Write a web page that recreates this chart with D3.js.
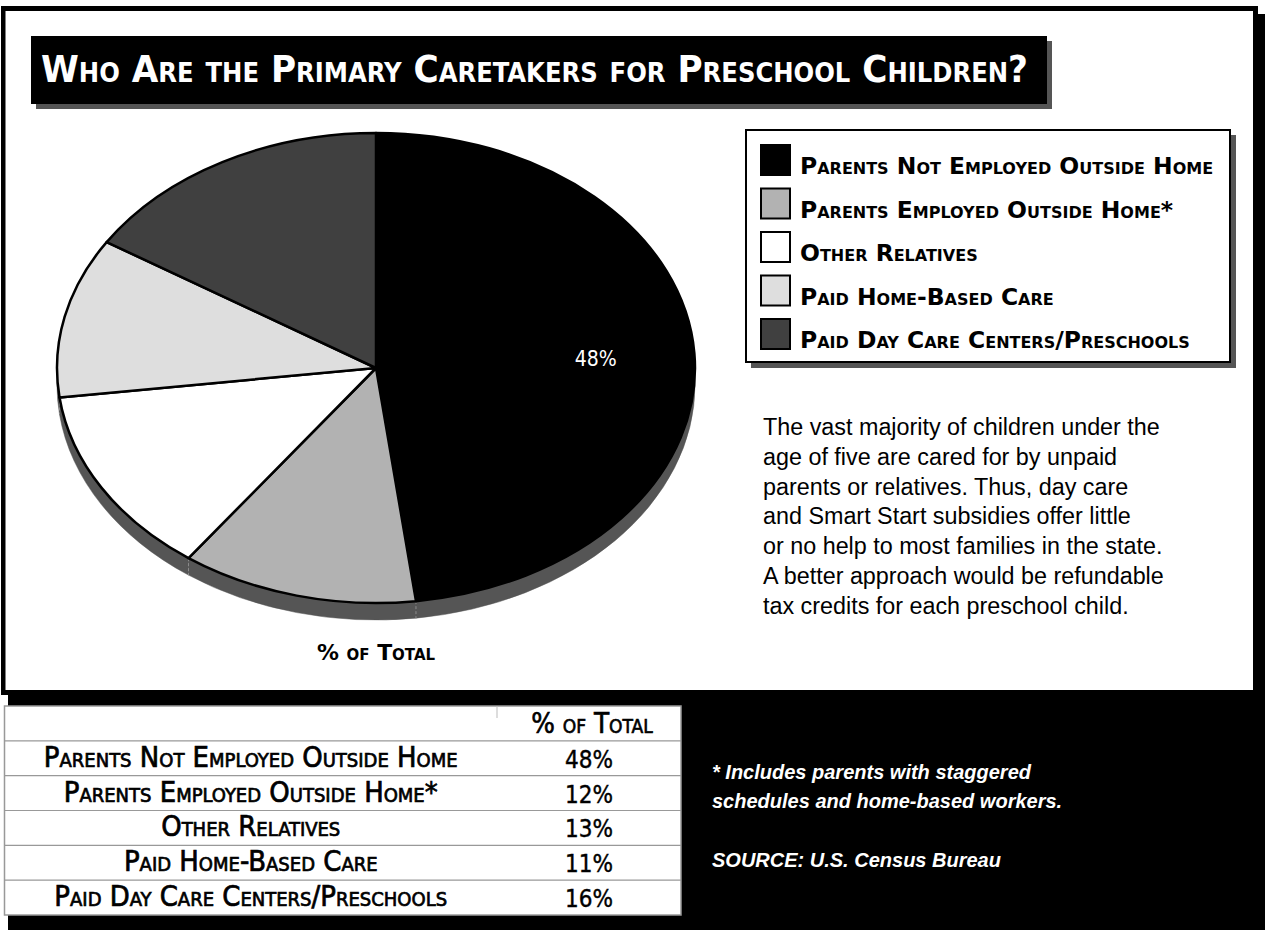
<!DOCTYPE html>
<html><head><meta charset="utf-8">
<script src="https://cdn.jsdelivr.net/npm/d3@7"></script>
<style>
html,body{margin:0;padding:0;background:#fff;}
svg{display:block;}
.cond{font-family:"Liberation Sans Narrow","DejaVu Sans Condensed","Arial Narrow",sans-serif;}
.flare{font-family:"DejaVu Sans","Open Sans",sans-serif;}
.sc{font-variant:small-caps;}
.body{font-family:"Liberation Sans",Arial,sans-serif;}
</style></head><body>
<svg id="chart" width="1265" height="930"></svg>
<script>
// ---------- data ----------
const title = "Who Are the Primary Caretakers for Preschool Children?";
const categories = [
  "Parents Not Employed Outside Home",
  "Parents Employed Outside Home*",
  "Other Relatives",
  "Paid Home-Based Care",
  "Paid Day Care Centers/Preschools"
];
const values = [48, 12, 13, 11, 16];
const valueLabels = ["48%", "12%", "13%", "11%", "16%"];
const shownSliceLabels = ["48%"];
const columnHeader = "% of Total";
const pieCaption = "% of Total";
const description = [
  "The vast majority of children under the",
  "age of five are cared for by unpaid",
  "parents or relatives. Thus, day care",
  "and Smart Start subsidies offer little",
  "or no help to most families in the state.",
  "A better approach would be refundable",
  "tax credits for each preschool child."
];
const footnote = ["* Includes parents with staggered", "schedules and home-based workers."];
const source = "SOURCE: U.S. Census Bureau";

// ---------- styles ----------
const palette = ["#000000", "#b2b2b2", "#ffffff", "#dedede", "#404040"];
const color = d3.scaleOrdinal(categories, palette);

const svg = d3.select("#chart");

function fitFont(sel, target) {
  const n = sel.node();
  const fs = parseFloat(sel.attr("font-size"));
  const w = n.getComputedTextLength();
  const nf = fs * target / w;
  sel.attr("font-size", nf.toFixed(2));
  return nf;
}

// ---------- frame ----------
svg.append("rect").attr("x", 8).attr("y", 14).attr("width", 1257).attr("height", 916).attr("fill", "#000");
svg.append("rect").attr("x", 1).attr("y", 6).attr("width", 1257).attr("height", 689).attr("fill", "#000");
svg.append("rect").attr("x", 5.5).attr("y", 11).attr("width", 1247.5).attr("height", 679).attr("fill", "#fff");

// ---------- title ----------
svg.append("rect").attr("x", 36).attr("y", 41).attr("width", 1016).attr("height", 68).attr("fill", "#555");
svg.append("rect").attr("x", 31).attr("y", 36).attr("width", 1016).attr("height", 68).attr("fill", "#000");
const tt = svg.append("text").attr("class", "cond sc").attr("x", 41).attr("y", 82)
  .attr("font-size", 28).attr("font-weight", "bold").attr("fill", "#fff").text(title);
fitFont(tt, 993);

// ---------- pie ----------
const cx = 376, cy = 368, rx = 319, ry = 235, depth = 17;
const arcs = d3.pie().sort(null).value(d => d)(values);
const pieG = svg.append("g").attr("transform", `translate(${cx},${cy}) scale(${rx / ry},1)`);
const toStd = a => a - Math.PI / 2;
arcs.forEach((p, i) => {
  const a0 = Math.max(p.startAngle, Math.PI / 2), a1 = Math.min(p.endAngle, 3 * Math.PI / 2);
  if (a1 <= a0) return;
  const path = d3.path();
  path.moveTo(ry * Math.sin(a0), -ry * Math.cos(a0));
  path.arc(0, 0, ry, toStd(a0), toStd(a1), false);
  path.lineTo(ry * Math.sin(a1), -ry * Math.cos(a1) + depth);
  path.arc(0, depth, ry, toStd(a1), toStd(a0), true);
  path.closePath();
  pieG.append("path").attr("d", path.toString()).attr("fill", "#555").attr("stroke", "#555")
    .attr("stroke-width", 0.5).attr("vector-effect", "non-scaling-stroke");
});
arcs.forEach(p => {
  const a = p.endAngle;
  if (a > Math.PI / 2 && a < 3 * Math.PI / 2) {
    pieG.append("line")
      .attr("x1", ry * Math.sin(a)).attr("y1", -ry * Math.cos(a))
      .attr("x2", ry * Math.sin(a)).attr("y2", -ry * Math.cos(a) + depth)
      .attr("stroke", "#8c8c8c").attr("stroke-width", 1).attr("stroke-dasharray", "3,2")
      .attr("vector-effect", "non-scaling-stroke");
  }
});
const arcGen = d3.arc().innerRadius(0).outerRadius(ry);
pieG.selectAll("path.slice").data(arcs).join("path").attr("class", "slice")
  .attr("d", arcGen)
  .attr("fill", (d, i) => color(categories[i]))
  .attr("stroke", "#000").attr("stroke-width", 2.5).attr("stroke-linejoin", "round")
  .attr("vector-effect", "non-scaling-stroke");

arcs.forEach((p, i) => {
  if (!shownSliceLabels.includes(valueLabels[i])) return;
  const m = (p.startAngle + p.endAngle) / 2;
  svg.append("text").attr("class", "cond")
    .attr("x", cx + rx * 0.69 * Math.sin(m)).attr("y", cy - ry * 0.69 * Math.cos(m) + 8)
    .attr("text-anchor", "middle").attr("font-size", 21).attr("font-weight", "normal")
    .attr("fill", "#fff").text(valueLabels[i]);
});

const cap = svg.append("text").attr("class", "flare sc").attr("x", cx).attr("y", 660)
  .attr("text-anchor", "middle").attr("font-size", 18).attr("font-weight", "bold").attr("fill", "#000").text(pieCaption);
fitFont(cap, 122);

// ---------- legend ----------
svg.append("rect").attr("x", 751).attr("y", 135).attr("width", 485).attr("height", 233).attr("fill", "#555");
svg.append("rect").attr("x", 746).attr("y", 130).attr("width", 484).attr("height", 232)
  .attr("fill", "#fff").attr("stroke", "#000").attr("stroke-width", 2);
const legY = d3.scalePoint().domain(categories).range([145, 319]);
const leg = svg.append("g");
categories.forEach((c, i) => {
  leg.append("rect").attr("x", 761).attr("y", legY(c)).attr("width", 29).attr("height", 30)
    .attr("fill", color(c)).attr("stroke", "#000").attr("stroke-width", 2);
});
const legTexts = categories.map(c => leg.append("text").attr("class", "flare sc")
  .attr("x", 800).attr("y", legY(c) + 29).attr("font-size", 19).attr("font-weight", "bold").attr("fill", "#000").text(c));
const lfs = fitFont(legTexts[0], 414);
legTexts.forEach(t => t.attr("font-size", lfs.toFixed(2)));

// ---------- description ----------
const descTexts = description.map((line, i) => svg.append("text").attr("class", "body")
  .attr("x", 763).attr("y", 435 + i * 29.8).attr("font-size", 19).attr("fill", "#000").text(line));
const dfs = fitFont(descTexts[0], 397);
descTexts.forEach(t => t.attr("font-size", dfs.toFixed(2)));

// ---------- table ----------
const tableX0 = 4.5, tableX1 = 681, colX = 497, tableTop = 706;
const rowY = d3.scaleBand().domain(["__header"].concat(categories)).range([tableTop, 915]);
svg.append("rect").attr("x", tableX0).attr("y", tableTop).attr("width", tableX1 - tableX0).attr("height", 915 - tableTop)
  .attr("fill", "#fff").attr("stroke", "#999").attr("stroke-width", 1.5);
categories.forEach(c => {
  svg.append("line").attr("x1", tableX0).attr("x2", tableX1).attr("y1", rowY(c)).attr("y2", rowY(c))
    .attr("stroke", "#999").attr("stroke-width", 1.2);
});
svg.append("line").attr("x1", colX).attr("x2", colX).attr("y1", tableTop).attr("y2", tableTop + 12)
  .attr("stroke", "#bbb").attr("stroke-width", 1);
const bw = rowY.bandwidth();
const hdr = svg.append("text").attr("class", "cond sc").attr("x", (colX + tableX1) / 2 + 3).attr("y", tableTop + bw - 8)
  .attr("text-anchor", "middle").attr("font-size", 21).attr("fill", "#000")
  .attr("stroke", "#000").attr("stroke-width", 0.6).text(columnHeader);
fitFont(hdr, 124);
const tabTexts = categories.map(c => svg.append("text").attr("class", "cond sc")
  .attr("x", (tableX0 + colX) / 2).attr("y", rowY(c) + bw - 9).attr("text-anchor", "middle")
  .attr("font-size", 21).attr("fill", "#000").attr("stroke", "#000").attr("stroke-width", 0.7).text(c));
const tfs = fitFont(tabTexts[0], 423);
tabTexts.forEach(t => t.attr("font-size", tfs.toFixed(2)));
categories.forEach((c, i) => {
  svg.append("text").attr("class", "cond").attr("x", (colX + tableX1) / 2).attr("y", rowY(c) + bw - 8)
    .attr("text-anchor", "middle").attr("font-size", 24).attr("fill", "#000")
    .attr("stroke", "#000").attr("stroke-width", 0.4).text(valueLabels[i]);
});

// ---------- footnote ----------
footnote.forEach((line, i) => {
  svg.append("text").attr("class", "body").attr("x", 712).attr("y", 779 + i * 29)
    .attr("font-size", 20).attr("font-weight", "bold").attr("font-style", "italic").attr("fill", "#fff").text(line);
});
svg.append("text").attr("class", "body").attr("x", 712).attr("y", 867)
  .attr("font-size", 20).attr("font-weight", "bold").attr("font-style", "italic").attr("fill", "#fff").text(source);
</script>
</body></html>
